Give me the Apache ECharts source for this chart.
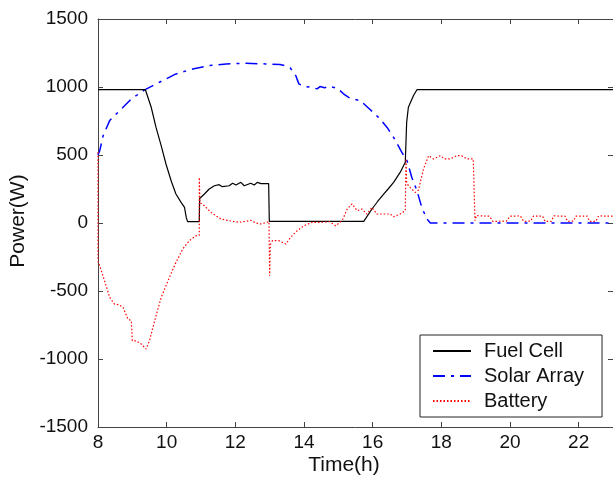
<!DOCTYPE html>
<html>
<head>
<meta charset="utf-8">
<script src="https://cdn.jsdelivr.net/npm/echarts@6/dist/echarts.min.js"></script>
<style>
html, body { margin: 0; padding: 0; background: #fff; }
#chart { width: 613px; height: 477px; }
</style>
</head>
<body>
<div id="chart"></div>
<script>
// time in hours, power in W
const fuelTime = [8, 9.38, 9.4, 9.55, 9.69, 9.84, 9.98, 10.13, 10.27, 10.42, 10.52, 10.57, 10.61, 10.95, 10.96, 11.1, 11.24, 11.39, 11.53, 11.62, 11.82, 11.92, 12.02, 12.16, 12.26, 12.45, 12.55, 12.64, 12.75, 12.97, 12.99, 15.74, 15.98, 16.15, 16.32, 16.45, 16.61, 16.8, 16.95, 16.97, 16.99, 17.04, 17.19, 17.29, 23]
const fuelPower = [980, 980, 975, 851, 703, 569, 434, 311, 213, 152, 115, 41, 10, 10, 180, 213, 250, 274, 282, 267, 274, 292, 280, 299, 274, 292, 280, 299, 290, 290, 12, 12, 103, 160, 213, 250, 299, 372, 446, 460, 740, 851, 937, 980, 980]

const solarTime = [8, 8.05, 8.15, 8.34, 8.63, 8.97, 9.36, 9.79, 10.27, 10.76, 11.24, 11.73, 12.31, 12.89, 13.3, 13.47, 13.6, 13.76, 13.85, 14.0, 14.2, 14.38, 14.47, 14.6, 14.75, 14.9, 15.0, 15.15, 15.3, 15.45, 15.64, 15.9, 16.17, 16.42, 16.61, 16.85, 17.0, 17.14, 17.29, 17.43, 17.58, 17.68, 23]
const solarPower = [500, 531, 642, 753, 826, 912, 979, 1035, 1096, 1133, 1157, 1170, 1174, 1170, 1165, 1155, 1140, 1084, 1023, 1003, 1000, 986, 1003, 995, 1005, 995, 985, 950, 924, 910, 900, 840, 777, 703, 630, 520, 458, 335, 238, 115, 29, 0, 0]

const batteryTime = [8, 8, 8.19, 8.34, 8.48, 8.6, 8.73, 8.87, 8.97, 9.0, 9.11, 9.26, 9.4, 9.5, 9.65, 9.84, 10.08, 10.27, 10.47, 10.66, 10.86, 10.95, 10.95, 10.97, 11.1, 11.29, 11.58, 11.82, 12.11, 12.3, 12.45, 12.6, 12.74, 12.98, 13.0, 13.02, 13.08, 13.27, 13.47, 13.61, 13.8, 14.0, 14.24, 14.5, 14.75, 14.92, 15.11, 15.26, 15.4, 15.55, 15.69, 15.83, 15.98, 16.12, 16.3, 16.51, 16.61, 16.8, 16.95, 16.97, 16.99, 17.04, 17.24, 17.33, 17.48, 17.63, 17.77, 17.97, 18.1, 18.26, 18.45, 18.59, 18.75, 18.93, 18.98, 19.02, 19.4, 19.5, 19.9, 20.0, 20.3, 20.4, 20.6, 20.68, 20.95, 21.02, 21.2, 21.28, 21.6, 21.68, 21.85, 21.92, 22.25, 22.32, 22.5, 22.58, 23]
const batteryPower = [520, -277, -424, -547, -596, -600, -621, -706, -719, -866, -866, -890, -927, -866, -719, -547, -400, -290, -191, -130, -93, -90, 335, 150, 127, 78, 29, 17, 5, 12, 20, 0, -7, 10, -388, -160, -130, -130, -155, -106, -57, -20, 5, 5, 10, -20, 17, 103, 140, 90, 103, 66, 115, 66, 66, 66, 46, 66, 90, 471, 300, 274, 225, 240, 397, 495, 471, 495, 471, 471, 495, 495, 471, 471, 17, 54, 50, 12, 14, 50, 52, 12, 14, 50, 50, 12, 12, 52, 50, 12, 14, 50, 50, 12, 12, 52, 50]

const xTicks = [8, 10, 12, 14, 16, 18, 20, 22]

function zip(xs, ys){
  return xs.map((x, i) => [x, ys[i]])
}

let chart = echarts.init(document.getElementById('chart'))

const axisColor = '#444'
const font = 'Liberation Sans'

let chartOpt = {
  animation: false,
  backgroundColor: '#fff',
  textStyle: { fontFamily: font },
  grid: { left: 98, top: 19, width: 517, height: 408 },
  xAxis: [{
    type: 'value', min: 8, max: 23, interval: 2,
    axisLine: { onZero: false, lineStyle: { color: axisColor, width: 1 } },
    axisTick: { inside: true, length: 5, lineStyle: { color: axisColor } },
    axisLabel: {
      color: '#111', fontSize: 19, margin: 6, showMaxLabel: false,
      formatter: v => xTicks.indexOf(v) >= 0 ? String(v) : ''
    },
    splitLine: { show: false }
  }, {
    type: 'value', position: 'top', min: 8, max: 23, interval: 2,
    axisLine: { onZero: false, lineStyle: { color: axisColor, width: 1 } },
    axisTick: { inside: true, length: 5, lineStyle: { color: axisColor } },
    axisLabel: { show: false },
    splitLine: { show: false }
  }],
  yAxis: [{
    type: 'value', min: -1500, max: 1500, interval: 500,
    axisLine: { show: true, onZero: false, lineStyle: { color: axisColor, width: 1 } },
    axisTick: { show: true, inside: true, length: 5, lineStyle: { color: axisColor } },
    axisLabel: { color: '#111', fontSize: 19, margin: 10, formatter: v => String(v) },
    splitLine: { show: false }
  }, {
    type: 'value', position: 'right', min: -1500, max: 1500, interval: 500,
    axisLine: { show: true, onZero: false, lineStyle: { color: axisColor, width: 1 } },
    axisTick: { show: true, inside: true, length: 5, lineStyle: { color: axisColor } },
    axisLabel: { show: false },
    splitLine: { show: false }
  }],
  legend: {
    left: 420, top: 335,
    orient: 'vertical',
    backgroundColor: '#fff',
    borderColor: '#222',
    borderWidth: 1,
    padding: [6, 18, 6, 12],
    itemWidth: 38, itemHeight: 14, itemGap: 5,
    itemStyle: { opacity: 0 },
    textStyle: { fontSize: 20, lineHeight: 20, color: '#111', padding: [0, 0, 0, 8] },
    data: ['Fuel Cell', 'Solar Array', 'Battery']
  },
  graphic: [{
    type: 'text', x: 18, y: 221, rotation: Math.PI / 2,
    style: { text: 'Power(W)', fontSize: 21, fontFamily: font, fill: '#111', align: 'center', verticalAlign: 'middle' }
  }, {
    type: 'text', x: 344, y: 465,
    style: { text: 'Time(h)', fontSize: 21, fontFamily: font, fill: '#111', align: 'center', verticalAlign: 'middle' }
  }],
  series: [{
    name: 'Fuel Cell', type: 'line', symbol: 'none', z: 3,
    lineStyle: { color: '#000', width: 1.2 },
    itemStyle: { color: '#000' },
    data: zip(fuelTime, fuelPower)
  }, {
    name: 'Solar Array', type: 'line', symbol: 'none', z: 2,
    lineStyle: { color: '#0000ff', width: 1.5, type: [12, 6, 3, 6] },
    itemStyle: { color: '#0000ff' },
    data: zip(solarTime, solarPower)
  }, {
    name: 'Battery', type: 'line', symbol: 'none', z: 4,
    lineStyle: { color: '#ff0000', width: 1.2, type: [1.5, 2] },
    itemStyle: { color: '#ff0000' },
    data: zip(batteryTime, batteryPower)
  }]
}

chart.setOption(chartOpt)
</script>
</body>
</html>
